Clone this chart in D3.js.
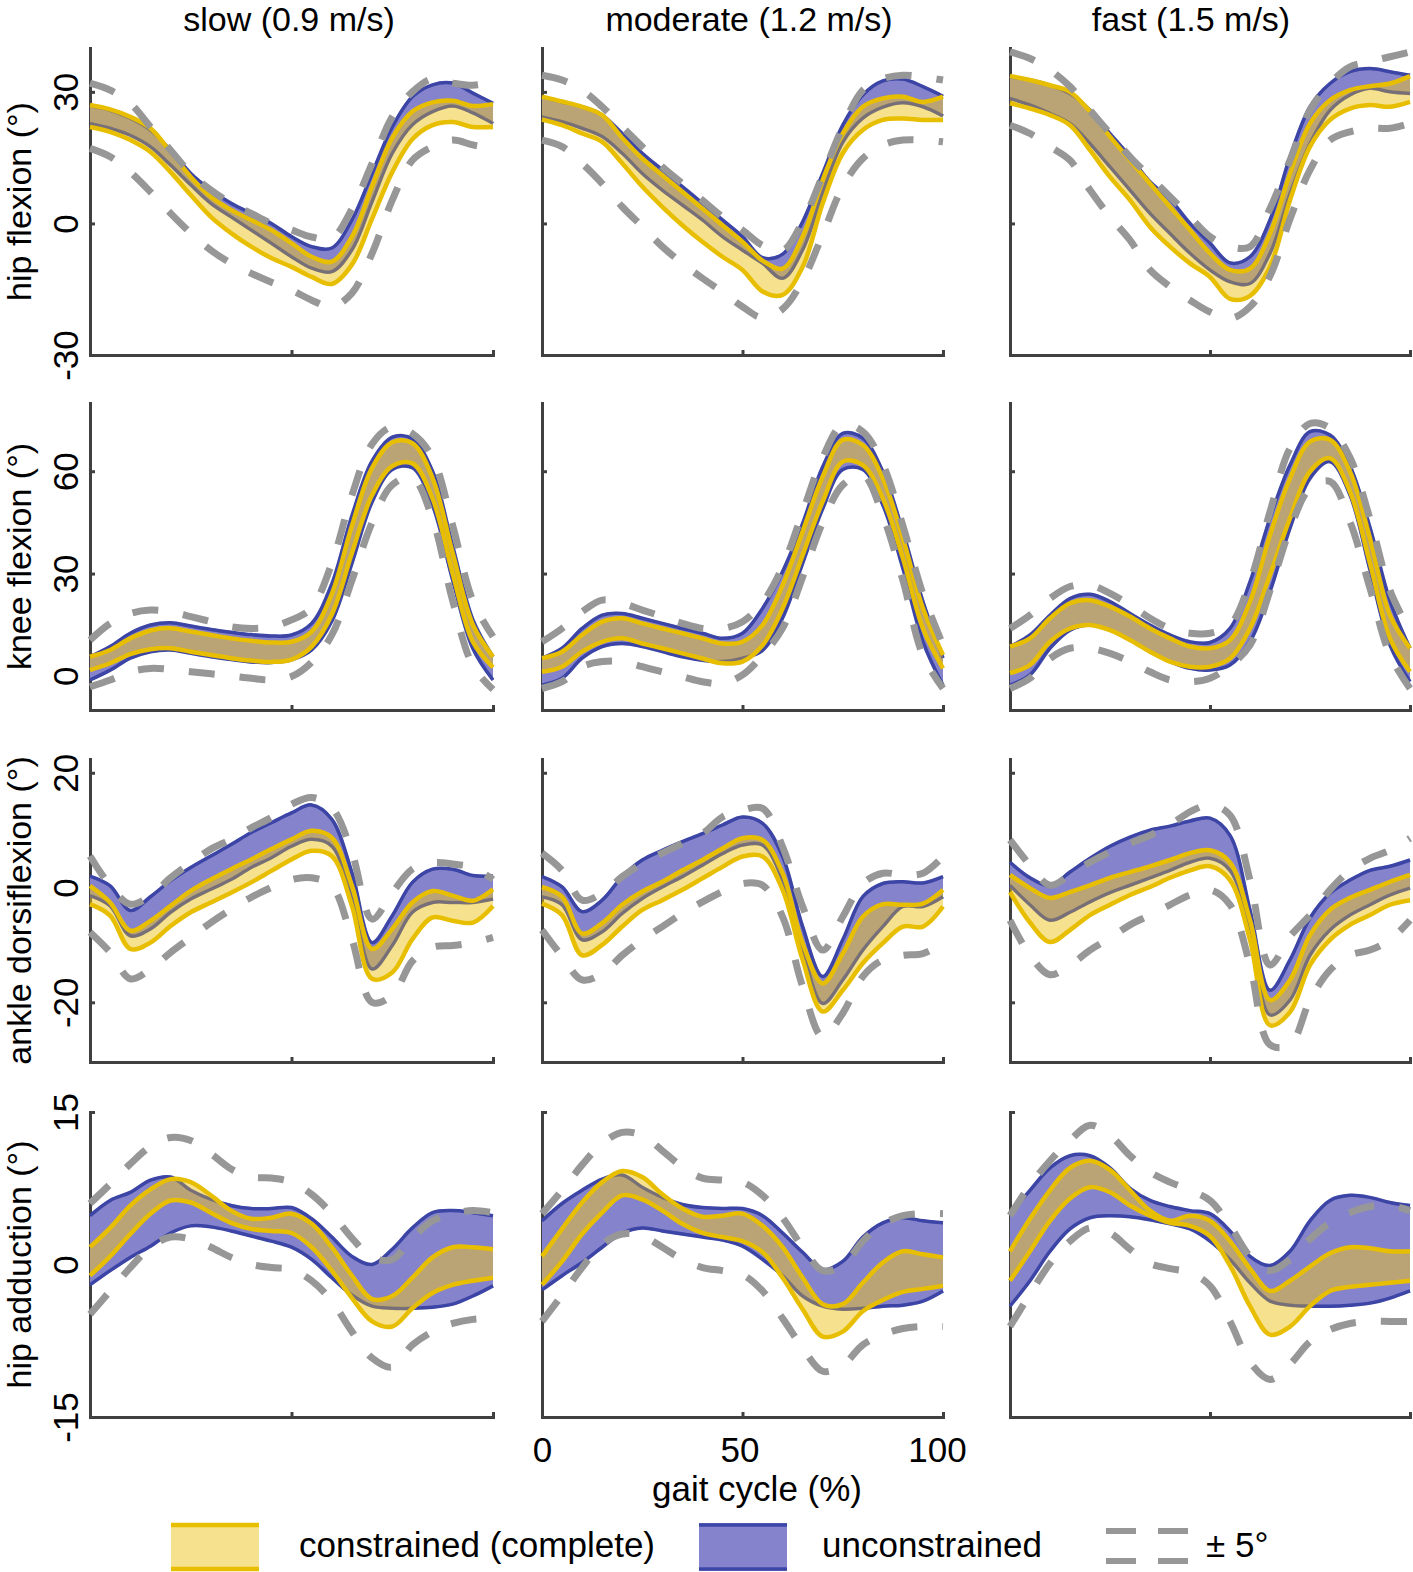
<!DOCTYPE html>
<html><head><meta charset="utf-8">
<script src="https://cdn.jsdelivr.net/npm/d3@7"></script>
<style>
body{margin:0;background:#fff;}
svg text{font-family:"Liberation Sans",Arial,Helvetica,sans-serif;fill:#000;}
</style></head><body>
<svg id="chart" width="1413" height="1572"></svg>
<script>
// ---------- categories / ticks ----------
const gaitCycle = [0,5,10,15,20,25,30,35,40,45,50,55,60,65,70,75,80,85,90,95,100];
const speedTitles = ["slow (0.9 m/s)", "moderate (1.2 m/s)", "fast (1.5 m/s)"];
const jointLabels = ["hip flexion (°)", "knee flexion (°)", "ankle dorsiflexion (°)", "hip adduction (°)"];
const yDomains = [[-30,40],[-10,80],[-30.4,22.4],[-15,15]];
const yTickVals = [[-30,0,30],[0,30,60],[-20,0,20],[-15,0,15]];
const xTickVals = [0,50,100];
const legendLabels = ["constrained (complete)", "unconstrained", "± 5°"];

// ---------- hip flexion ----------
const hfS_conHi = [27.0,26.0,24.3,21.7,16.3,10.6,6.1,3.1,0.8,-1.5,-4.5,-7.6,-8.7,-3.0,8.5,19.5,25.5,27.6,28.0,26.8,27.2];
const hfS_conLo = [22.0,20.9,19.0,16.3,11.7,6.5,1.5,-2.2,-5.3,-7.9,-9.9,-12.2,-13.8,-9.4,1.1,11.7,19.2,22.4,23.1,22.0,22.0];
const hfS_uncHi = [26.8,25.8,24.0,21.3,16.7,11.4,7.6,4.6,2.3,0.0,-3.0,-5.3,-5.6,0.8,11.4,22.0,28.9,31.6,32.0,29.7,27.4];
const hfS_uncLo = [22.8,21.7,20.1,17.5,13.3,8.8,4.6,1.5,-1.5,-4.5,-7.6,-10.2,-11.0,-6.0,5.0,16.0,22.5,25.5,26.8,25.2,22.8];
const hfS_refHi = [32.0,30.4,27.4,22.0,16.7,11.4,7.6,4.6,2.3,0.0,-1.5,-3.1,-3.4,3.3,13.7,24.3,30.0,33.0,32.0,31.5,32.3];
const hfS_refLo = [17.1,15.2,11.7,7.2,2.3,-2.2,-6.1,-9.1,-11.4,-13.4,-15.2,-17.5,-19.0,-15.9,-6.8,5.3,14.4,17.5,19.0,17.9,17.1];

const hfM_conHi = [28.9,27.8,26.6,24.7,19.5,14.8,11.0,7.2,3.4,-0.4,-4.2,-8.5,-10.3,-3.0,9.9,20.5,26.6,28.5,28.9,27.7,28.9];
const hfM_conLo = [23.7,22.4,20.5,18.6,13.7,8.4,3.8,-0.4,-4.2,-7.6,-10.6,-15.5,-16.3,-9.9,4.6,16.0,21.3,23.6,23.9,23.6,23.6];
const hfM_uncHi = [28.9,27.7,26.6,24.7,20.5,16.0,12.2,8.4,4.6,0.8,-3.0,-7.8,-7.0,0.4,11.4,22.4,29.3,32.5,32.9,31.2,29.0];
const hfM_uncLo = [24.3,23.2,21.7,19.8,16.0,11.4,7.6,4.2,0.8,-3.0,-6.1,-9.1,-12.5,-6.0,7.0,18.5,24.0,26.5,27.5,26.6,24.5];
const hfM_refHi = [33.8,32.7,30.4,26.6,22.0,17.5,12.9,9.1,5.3,1.5,-1.5,-5.0,-6.2,0.4,11.0,22.0,30.4,33.0,33.8,33.4,32.7];
const hfM_refLo = [19.0,17.5,13.7,9.1,3.8,-0.7,-5.3,-9.1,-12.5,-15.6,-19.0,-21.5,-19.5,-13.0,-2.5,8.4,14.8,17.9,19.0,19.0,18.6];

const hfF_conHi = [33.6,32.7,31.5,30.0,25.5,19.8,14.4,9.1,3.8,-1.5,-6.8,-10.6,-10.3,-2.3,11.4,22.8,28.1,30.4,31.3,31.9,33.6];
const hfF_conLo = [27.4,26.2,24.7,22.4,16.7,10.6,5.3,-0.8,-5.3,-9.1,-12.2,-17.2,-16.5,-9.9,5.3,17.5,23.6,26.2,27.0,26.6,27.7];
const hfF_uncHi = [33.4,32.7,31.5,29.6,25.8,20.5,15.2,9.5,5.5,0.0,-4.5,-9.0,-7.6,0.8,15.2,26.6,31.9,34.6,35.3,34.6,33.8];
const hfF_uncLo = [28.5,27.0,25.1,22.8,18.2,12.9,7.6,2.3,-2.3,-6.8,-10.6,-13.3,-13.7,-6.8,6.8,18.2,25.8,29.3,30.8,30.0,29.6];
const hfF_refHi = [39.1,37.6,35.0,31.2,25.8,20.5,15.2,10.6,6.1,1.5,-3.0,-5.3,-5.3,3.4,14.4,25.8,31.9,35.7,36.9,38.0,39.1];
const hfF_refLo = [22.4,20.5,17.5,14.4,7.6,1.5,-3.8,-10.6,-14.4,-17.5,-20.2,-21.7,-19.0,-12.0,1.0,12.2,19.0,20.9,21.7,21.7,22.8];

// ---------- knee flexion ----------
const kfS_conHi = [5.6,7.6,11.0,13.3,14.0,13.0,12.0,11.0,10.3,9.8,10.0,13.0,24.0,44.0,61.0,68.5,68.2,58.0,36.0,15.0,5.6];
const kfS_conLo = [1.7,3.7,6.4,7.8,8.1,7.1,6.1,5.2,4.5,4.1,4.8,8.6,18.0,36.0,53.0,61.5,62.3,52.0,30.0,10.0,2.5];
const kfS_uncHi = [5.6,8.6,12.5,14.9,15.6,14.6,13.6,12.8,12.1,11.7,12.0,15.4,27.0,47.0,63.0,70.0,69.5,60.0,38.0,16.5,5.6];
const kfS_uncLo = [-1.2,1.7,5.2,7.1,7.6,6.6,5.6,4.8,4.1,3.9,4.7,7.6,16.0,33.0,51.0,60.5,61.0,50.0,28.0,8.0,-1.2];
const kfS_refHi = [10.5,15.4,18.3,19.3,18.8,17.4,15.9,14.4,13.9,14.4,16.4,20.0,33.0,53.0,68.0,73.0,71.0,64.0,44.0,22.0,11.5];
const kfS_refLo = [-3.2,-1.2,1.2,2.2,1.9,1.2,0.6,0.0,-0.7,-1.2,-0.2,4.0,12.0,28.0,45.0,56.0,58.0,46.0,22.0,3.0,-4.0];

const kfM_conHi = [5.2,7.1,12.0,15.9,16.9,15.4,13.9,12.5,11.0,9.5,10.0,14.9,26.6,42.3,58.4,69.2,67.7,57.9,40.3,19.8,6.1];
const kfM_conLo = [1.2,2.7,7.1,10.0,11.0,9.5,8.1,6.6,5.1,3.7,4.2,9.0,19.8,35.4,51.1,62.8,61.8,52.0,34.5,13.9,2.2];
const kfM_uncHi = [5.2,8.1,13.9,17.8,18.3,16.9,15.4,13.9,12.5,11.0,12.5,19.8,30.6,44.7,61.3,71.1,69.7,59.9,42.3,21.8,5.2];
const kfM_uncLo = [-2.7,-0.7,5.2,8.6,9.5,8.6,7.1,5.6,4.6,4.2,5.2,7.5,17.0,33.0,49.0,60.5,60.5,50.1,31.5,10.0,-2.7];
const kfM_refHi = [10.0,13.9,18.8,22.2,21.3,19.3,17.4,15.4,13.9,13.9,15.9,21.5,32.0,48.0,64.0,73.6,71.6,62.0,44.0,24.0,9.0];
const kfM_refLo = [-3.7,-1.7,2.7,4.2,4.2,2.7,1.2,-0.2,-1.7,-2.2,0.3,6.1,14.0,29.0,45.0,56.0,58.9,47.0,28.0,6.0,-3.7];

const kfF_conHi = [8.6,11.0,16.9,21.3,22.2,20.3,17.4,13.9,11.0,8.6,8.1,10.5,21.8,41.3,57.9,68.7,69.2,59.9,40.3,17.8,8.1];
const kfF_conLo = [0.8,3.2,10.0,13.9,14.9,13.4,10.5,7.1,4.2,2.7,2.7,5.1,13.9,29.6,46.2,59.9,63.8,54.0,33.0,11.0,1.2];
const kfF_uncHi = [8.6,12.0,17.8,22.7,23.9,21.8,18.3,14.9,12.0,10.0,9.8,13.9,27.6,46.2,61.8,71.6,70.6,61.5,43.5,22.0,8.1];
const kfF_uncLo = [-2.7,0.3,8.1,13.4,14.9,13.4,10.5,7.1,4.2,2.2,1.7,3.2,10.0,24.7,43.3,57.9,62.8,53.0,31.0,9.0,-1.7];
const kfF_refHi = [13.9,17.8,22.7,26.2,26.6,24.2,20.8,16.9,13.9,12.5,12.5,14.9,27.6,48.1,66.7,74.0,72.6,64.0,46.0,25.0,13.0];
const kfF_refLo = [-3.7,-0.7,5.1,8.1,8.1,6.6,4.2,1.2,-1.2,-1.7,-0.7,3.0,9.0,25.0,43.0,55.0,57.0,45.2,25.7,6.1,-3.7];

// ---------- ankle dorsiflexion ----------
const adS_conHi = [0.3,-2.6,-7.5,-5.8,-3.2,-0.6,1.4,3.2,4.9,6.7,8.4,9.9,8.7,0.3,-10.7,-7.2,-2.6,-0.6,-1.4,-2.3,-0.3];
const adS_conLo = [-2.9,-4.9,-10.7,-9.6,-6.7,-4.3,-2.6,-0.9,0.9,2.9,4.9,6.4,5.5,-3.2,-15.9,-14.8,-9.0,-5.2,-5.8,-6.1,-3.2];
const adS_uncHi = [2.0,0.3,-4.0,-1.6,1.2,3.5,5.5,7.5,9.6,11.3,13.0,14.4,11.9,2.6,-9.6,-4.9,0.9,3.2,3.2,2.1,2.0];
const adS_uncLo = [-1.4,-3.2,-8.4,-7.2,-4.3,-2.0,-0.3,1.4,3.5,5.2,7.2,8.4,7.2,-2.0,-14.2,-10.1,-4.3,-2.6,-2.6,-2.6,-2.0];
const adS_refHi = [5.5,0.3,-2.9,-1.4,1.7,4.3,6.7,8.4,10.4,12.2,14.5,15.7,13.9,6.1,-5.5,-0.9,3.2,4.3,4.1,3.5,1.4];
const adS_refLo = [-7.8,-11.3,-15.9,-14.2,-11.3,-8.7,-6.1,-3.8,-1.7,0.0,1.4,1.7,0.3,-9.0,-20.0,-18.8,-12.8,-10.4,-10.1,-9.6,-8.7];

const adM_conHi = [0.1,-1.6,-8.0,-6.2,-3.0,-0.7,1.0,3.0,4.8,6.8,8.6,8.3,2.5,-9.7,-16.7,-11.5,-5.1,-2.9,-3.0,-2.8,-0.4];
const adM_conLo = [-2.8,-4.8,-11.8,-10.0,-6.8,-3.9,-2.2,-0.4,1.6,3.6,5.4,5.4,-0.4,-12.6,-21.6,-17.9,-13.2,-9.7,-6.8,-6.8,-3.3];
const adM_uncHi = [1.9,0.1,-4.2,-2.2,1.9,4.8,6.5,8.0,9.4,10.9,12.3,11.2,5.4,-6.8,-15.5,-9.1,-1.6,0.7,1.0,0.8,1.9];
const adM_uncLo = [-1.6,-3.0,-9.1,-7.7,-4.5,-1.9,0.1,1.9,3.9,5.9,7.4,7.4,1.3,-10.9,-20.2,-16.1,-10.9,-6.8,-3.3,-3.3,-1.6];
const adM_refHi = [6.0,3.0,-2.2,-1.0,1.9,4.2,6.0,7.7,9.4,12.3,13.5,13.8,7.1,-3.3,-10.9,-5.1,0.7,2.5,2.2,2.5,5.4];
const adM_refLo = [-7.4,-12.0,-16.1,-15.0,-11.8,-9.1,-6.8,-4.5,-2.5,-0.7,0.7,0.4,-5.1,-17.3,-26.0,-21.9,-15.5,-12.6,-11.8,-11.5,-9.7];

const adF_conHi = [2.2,-0.1,-1.8,-0.8,0.4,1.7,2.7,3.7,4.8,6.0,6.5,4.4,-5.7,-19.6,-16.1,-8.3,-3.9,-1.8,-0.4,1.0,2.2];
const adF_conLo = [-0.8,-6.1,-9.5,-7.4,-4.8,-3.0,-1.3,0.1,1.7,3.0,3.7,1.3,-9.1,-24.0,-21.7,-13.5,-9.1,-6.5,-4.8,-3.0,-2.2];
const adF_uncHi = [4.4,1.7,0.3,2.7,5.1,7.2,8.8,10.0,10.7,11.6,12.1,9.1,-3.9,-17.9,-12.6,-5.3,-1.0,1.3,3.0,3.7,4.8];
const adF_uncLo = [0.4,-3.0,-5.7,-4.3,-2.5,-0.9,0.4,1.7,3.0,4.4,5.1,3.0,-7.4,-22.2,-19.6,-11.8,-7.4,-4.8,-3.0,-1.3,-0.1];
const adF_refHi = [8.3,3.9,0.4,2.2,4.4,6.2,7.7,9.1,10.9,13.2,14.4,12.6,1.3,-13.5,-8.5,-4.8,-0.4,3.0,5.1,6.5,8.6];
const adF_refLo = [-5.7,-11.8,-15.2,-13.5,-10.9,-8.8,-6.5,-4.8,-3.0,-1.3,-0.4,-3.0,-13.5,-27.4,-27.4,-19.6,-14.4,-11.8,-10.9,-9.1,-5.7];

// ---------- hip adduction ----------
const haS_conHi = [1.7,3.6,5.8,7.4,8.4,8.1,6.8,5.3,4.5,4.6,5.0,4.0,1.7,-1.1,-3.4,-3.1,-1.3,0.7,1.7,1.7,1.5];
const haS_conLo = [-1.1,0.8,3.0,5.0,6.3,6.1,5.1,4.1,3.5,3.3,3.1,1.7,-0.6,-3.3,-5.6,-6.1,-4.3,-2.8,-2.0,-1.6,-1.3];
const haS_uncHi = [4.8,6.3,7.1,8.3,8.6,7.3,6.4,5.8,5.5,5.5,5.6,4.5,2.7,0.8,0.0,1.5,3.6,5.1,5.3,5.1,4.8];
const haS_uncLo = [-2.0,-0.6,0.7,1.8,3.1,3.8,3.7,3.3,2.8,2.3,1.7,0.5,-1.3,-3.0,-4.1,-4.3,-4.3,-4.2,-3.9,-3.1,-2.1];
const haS_refHi = [6.0,7.9,9.9,11.6,12.5,12.2,10.9,9.4,8.6,8.5,8.1,6.9,5.0,2.6,0.7,0.5,2.6,4.3,5.0,5.3,5.1];
const haS_refLo = [-4.9,-2.6,-0.3,1.7,2.7,2.5,1.7,0.7,0.0,-0.3,-0.5,-1.6,-3.6,-6.6,-9.2,-10.1,-7.9,-6.6,-5.8,-5.4,-5.3];

const haM_conHi = [0.8,3.5,6.1,8.1,9.2,8.6,6.9,5.5,4.7,4.8,5.0,3.8,1.7,-1.3,-3.9,-3.9,-1.8,0.2,1.3,1.0,0.7];
const haM_conLo = [-2.0,0.3,3.0,5.1,6.8,6.4,5.3,4.0,3.1,2.7,2.3,1.2,-1.3,-4.4,-7.1,-6.6,-4.6,-3.5,-2.7,-2.4,-2.1];
const haM_uncHi = [4.3,6.0,7.3,8.4,8.8,7.6,6.6,5.9,5.6,5.5,5.5,4.8,3.1,1.2,-0.5,0.3,2.7,4.1,4.6,4.3,4.1];
const haM_uncLo = [-2.5,-1.1,0.2,1.7,3.1,3.6,3.3,3.0,2.7,2.4,1.8,0.5,-1.1,-3.1,-4.1,-4.4,-4.3,-4.1,-4.0,-3.6,-2.6];
const haM_refHi = [5.0,7.3,9.8,11.9,13.0,12.7,11.2,9.6,8.5,8.3,8.1,6.8,4.6,1.7,-0.6,-0.1,2.3,4.0,4.8,5.0,5.0];
const haM_refLo = [-5.6,-3.0,-0.3,2.0,3.0,2.8,1.7,0.5,-0.3,-0.6,-1.0,-2.6,-5.3,-8.2,-10.5,-9.9,-7.9,-6.9,-6.3,-6.1,-6.1];

const haF_conHi = [1.3,4.5,7.3,9.5,10.2,9.3,7.3,5.3,4.3,4.8,4.3,2.3,-0.4,-2.6,-1.6,-0.2,1.1,1.7,1.6,1.3,1.3];
const haF_conLo = [-1.6,1.3,4.3,6.5,7.6,7.1,5.8,4.8,4.1,3.8,2.8,-0.1,-4.1,-6.9,-6.1,-4.1,-2.6,-2.2,-2.0,-1.8,-1.6];
const haF_uncHi = [5.0,7.3,9.5,10.7,10.7,9.5,7.5,6.3,5.7,5.3,5.0,3.3,0.8,-0.1,1.3,4.3,6.3,6.8,6.6,6.1,5.8];
const haF_uncLo = [-4.1,-1.6,1.3,3.5,4.6,4.8,4.7,4.4,4.0,3.5,2.3,0.5,-1.8,-3.6,-4.0,-4.1,-4.1,-4.0,-3.8,-3.3,-2.6];
const haF_refHi = [4.8,7.8,10.2,12.2,13.7,12.7,10.7,9.1,8.1,7.3,6.3,3.8,0.8,-0.6,0.5,2.5,4.1,5.1,5.7,5.8,5.3];
const haF_refLo = [-6.1,-2.9,0.1,2.3,3.6,3.1,1.5,0.1,-0.4,-0.8,-2.1,-5.6,-9.6,-11.3,-9.8,-7.6,-6.4,-5.8,-5.6,-5.6,-5.6];

// ---------- assemble panels (rows = joints, cols = speeds) ----------
const panels = [
  [[hfS_conHi,hfS_conLo,hfS_uncHi,hfS_uncLo,hfS_refHi,hfS_refLo],
   [hfM_conHi,hfM_conLo,hfM_uncHi,hfM_uncLo,hfM_refHi,hfM_refLo],
   [hfF_conHi,hfF_conLo,hfF_uncHi,hfF_uncLo,hfF_refHi,hfF_refLo]],
  [[kfS_conHi,kfS_conLo,kfS_uncHi,kfS_uncLo,kfS_refHi,kfS_refLo],
   [kfM_conHi,kfM_conLo,kfM_uncHi,kfM_uncLo,kfM_refHi,kfM_refLo],
   [kfF_conHi,kfF_conLo,kfF_uncHi,kfF_uncLo,kfF_refHi,kfF_refLo]],
  [[adS_conHi,adS_conLo,adS_uncHi,adS_uncLo,adS_refHi,adS_refLo],
   [adM_conHi,adM_conLo,adM_uncHi,adM_uncLo,adM_refHi,adM_refLo],
   [adF_conHi,adF_conLo,adF_uncHi,adF_uncLo,adF_refHi,adF_refLo]],
  [[haS_conHi,haS_conLo,haS_uncHi,haS_uncLo,haS_refHi,haS_refLo],
   [haM_conHi,haM_conLo,haM_uncHi,haM_uncLo,haM_refHi,haM_refLo],
   [haF_conHi,haF_conLo,haF_uncHi,haF_uncLo,haF_refHi,haF_refLo]]
];

// ---------- layout & style ----------
const colLayout = [{x0:90,x1:493},{x0:542,x1:943},{x0:1010,x1:1410}];
const rowLayout = [{top:48,bottom:355},{top:403,bottom:710},{top:759,bottom:1062},{top:1112,bottom:1417}];
const titleX = [289, 749, 1191];
const FS = 35;
const FS_EDGE = 34;
const axisColor = "#404040";
const yellow = "#e8be00";
const yellowFill = "#eec51e";
const yellowFillOpacity = 0.5;
const blueLine = "#3c46a6";
const blueFill = "#8683cd";
const gray = "#979797";

const svg = d3.select("#chart");
const curve = d3.curveCatmullRom.alpha(0.5);
const idx = d3.range(gaitCycle.length);

// titles
speedTitles.forEach((t,c) => {
  svg.append("text").attr("x", titleX[c]).attr("y", 31).attr("text-anchor","middle")
    .style("font-size", FS_EDGE+"px").text(t);
});
// y labels
jointLabels.forEach((t,r) => {
  const R = rowLayout[r];
  svg.append("text").attr("transform", `translate(31,${(R.top+R.bottom)/2}) rotate(-90)`)
    .attr("text-anchor","middle").style("font-size", FS_EDGE+"px").text(t);
});

panels.forEach((rowPanels, r) => rowPanels.forEach((p, c) => {
  const L = colLayout[c], R = rowLayout[r];
  const x = d3.scaleLinear().domain([0,100]).range([L.x0, L.x1]);
  const y = d3.scaleLinear().domain(yDomains[r]).range([R.bottom, R.top]);
  const g = svg.append("g");

  const ya = g.append("g").attr("transform", `translate(${L.x0},0)`)
    .call(d3.axisLeft(y).tickValues(yTickVals[r]).tickSize(-5).tickSizeOuter(0).tickFormat(d => String(d)));
  const xa = g.append("g").attr("transform", `translate(0,${R.bottom})`)
    .call(d3.axisBottom(x).tickValues(xTickVals).tickSize(-5).tickSizeOuter(0).tickFormat(d => String(d)));
  [ya, xa].forEach(a => {
    a.attr("font-family", null).attr("font-size", null);
    a.select(".domain").attr("stroke", axisColor).attr("stroke-width", 3).attr("stroke-linecap","square");
    a.selectAll(".tick line").attr("stroke", axisColor).attr("stroke-width", 3);
  });
  if (c === 0) {
    ya.selectAll(".tick text").attr("transform","rotate(-90)").attr("x",0).attr("y",-12)
      .attr("dy", null).attr("text-anchor","middle").style("font-size", FS+"px");
  } else ya.selectAll(".tick text").remove();
  if (r === 3 && c === 1) {
    xa.selectAll(".tick text").attr("y", 45).attr("dy", null).attr("dx", d => -0.06 * d)
      .style("font-size", FS+"px");
  } else xa.selectAll(".tick text").remove();

  const [conHi, conLo, uncHi, uncLo, refHi, refLo] = p;
  const areaGen = (hi, lo) => d3.area().x(i => x(gaitCycle[i])).y0(i => y(lo[i])).y1(i => y(hi[i])).curve(curve)(idx);
  const lineGen = v => d3.line().x(i => x(gaitCycle[i])).y(i => y(v[i])).curve(curve)(idx);

  // unconstrained band
  g.append("path").attr("d", areaGen(uncHi, uncLo)).attr("fill", blueFill);
  [uncHi, uncLo].forEach(v => g.append("path").attr("d", lineGen(v)).attr("fill","none")
    .attr("stroke", blueLine).attr("stroke-width", 3.5));
  // constrained band
  g.append("path").attr("d", areaGen(conHi, conLo)).attr("fill", yellowFill).attr("fill-opacity", yellowFillOpacity);
  // unconstrained edges seen through the translucent constrained band
  [uncHi, uncLo].forEach(v => g.append("path").attr("d", lineGen(v)).attr("fill","none")
    .attr("stroke", blueLine).attr("stroke-width", 3).attr("stroke-opacity", 0.35));
  [conHi, conLo].forEach(v => g.append("path").attr("d", lineGen(v)).attr("fill","none")
    .attr("stroke", yellow).attr("stroke-width", 4.5));
  // +/- 5 deg reference
  [refHi, refLo].forEach(v => g.append("path").attr("d", lineGen(v)).attr("fill","none")
    .attr("stroke", gray).attr("stroke-width", 7).attr("stroke-dasharray","26,25"));
}));

// x axis label
svg.append("text").attr("x", 757).attr("y", 1501).attr("text-anchor","middle")
  .style("font-size", FS+"px").text("gait cycle (%)");

// legend
const lg = svg.append("g");
lg.append("rect").attr("x",171).attr("y",1523).attr("width",88).attr("height",48)
  .attr("fill", yellowFill).attr("fill-opacity", yellowFillOpacity);
[1525, 1569].forEach(yy => lg.append("line").attr("x1",171).attr("x2",259).attr("y1",yy).attr("y2",yy)
  .attr("stroke", yellow).attr("stroke-width", 4.5));
lg.append("text").attr("x",299).attr("y",1557).style("font-size", FS+"px").text(legendLabels[0]);

lg.append("rect").attr("x",699).attr("y",1523).attr("width",88).attr("height",48).attr("fill", blueFill);
[1525, 1569].forEach(yy => lg.append("line").attr("x1",699).attr("x2",787).attr("y1",yy).attr("y2",yy)
  .attr("stroke", blueLine).attr("stroke-width", 3.5));
lg.append("text").attr("x",822).attr("y",1557).style("font-size", FS+"px").text(legendLabels[1]);

[1531, 1561].forEach(yy => lg.append("line").attr("x1",1106).attr("x2",1188).attr("y1",yy).attr("y2",yy)
  .attr("stroke", gray).attr("stroke-width", 6).attr("stroke-dasharray","30,22"));
lg.append("text").attr("x",1206).attr("y",1557).style("font-size", FS+"px").text(legendLabels[2]);
</script>
</body></html>
